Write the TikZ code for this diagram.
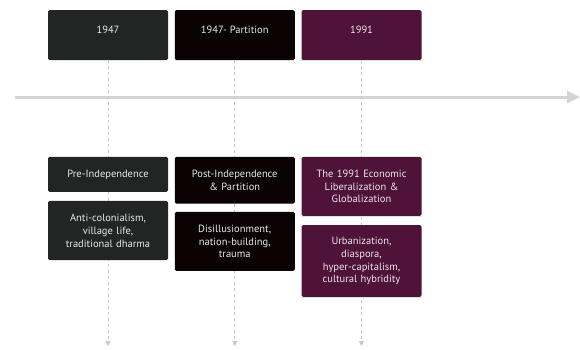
\documentclass[tikz,border=0pt]{standalone}
\usepackage{fontspec}
\setmainfont{PT Sans}
\usetikzlibrary{arrows.meta}
\definecolor{colA}{RGB}{35,37,36}
\definecolor{colB}{RGB}{11,2,4}
\definecolor{colC}{RGB}{79,18,56}
\definecolor{axisgrey}{RGB}{212,212,212}
\definecolor{dashgrey}{RGB}{200,200,200}
\definecolor{boxtext}{RGB}{232,232,232}
\definecolor{mint}{RGB}{196,240,218}
\tikzset{
  period/.style={rectangle, rounded corners=1.5pt, minimum width=120pt,
    inner ysep=0pt, text height=23pt, text depth=27pt, anchor=north,
    text=boxtext, font=\fontsize{10.5}{12}\selectfont},
  event/.style={rectangle, rounded corners=1.5pt, text width=112pt,
    inner xsep=4pt, inner ysep=0pt, align=center, anchor=north,
    text=boxtext, font=\fontsize{10.5}{12.8}\selectfont},
  guide/.style={draw=dashgrey, line width=0.9pt, dash pattern=on 3pt off 3pt,
    -{Triangle[width=5pt,length=5pt]}},
  axis/.style={draw=axisgrey, line width=3pt,
    -{Triangle[width=12pt,length=13pt]}},
}
\begin{document}
\begin{tikzpicture}[x=1pt,y=-1pt]
\useasboundingbox (0,0) rectangle (580,349);

% timeline axis
\coordinate (axL) at (15,97);
\coordinate (axR) at (580,97);
\draw[axis] (axL) -- (axR);

% period headers
\node[period, fill=colA] (T1) at (108,10) {1947};
\node[period, fill=colB] (T2) at (234.75,10) {1947- Partition};
\node[period, fill=colC] (T3) at (361.5,10) {1991};

% vertical guides
\coordinate (E1) at (108,346);
\coordinate (E2) at (234.75,346);
\coordinate (E3) at (361.5,346);
\draw[guide] (T1.south) -- (E1);
\draw[guide] (T2.south) -- (E2);
\draw[guide] (T3.south) -- (E3);

% events, first column
\node[event, fill=colA, minimum height=35pt] (A1) at (108,156.7) {Pre-Independence};
\node[event, fill=colA, minimum height=59.3pt] (A2) at (108,200.7)
  {Anti-colonialism,\\village life,\\traditional dharma};

% events, second column
\node[event, fill=colB, minimum height=46.7pt] (B1) at (234.75,156.7)
  {Post-Independence\\\& Partition};
\node[event, fill=colB, minimum height=59pt] (B2) at (234.75,211.7)
  {Disillusionment,\\nation-building,\\trauma};

% events, third column
\node[event, fill=colC, minimum height=59pt] (C1) at (361.5,156.7)
  {The 1991 Economic\\Liberalization \&\\Globalization};
\node[event, fill=colC, minimum height=71.7pt] (C2) at (361.5,225)
  {Urbanization,\\diaspora,\\hyper-capitalism,\\cultural hybridity};

% light rule under the purple boxes
\draw[mint, line width=0.8pt] (T3.south west) -- (T3.south east);
\draw[mint, line width=0.8pt] (C1.south west) -- (C1.south east);
\draw[mint, line width=0.8pt] (C2.south west) -- (C2.south east);
\end{tikzpicture}
\end{document}
